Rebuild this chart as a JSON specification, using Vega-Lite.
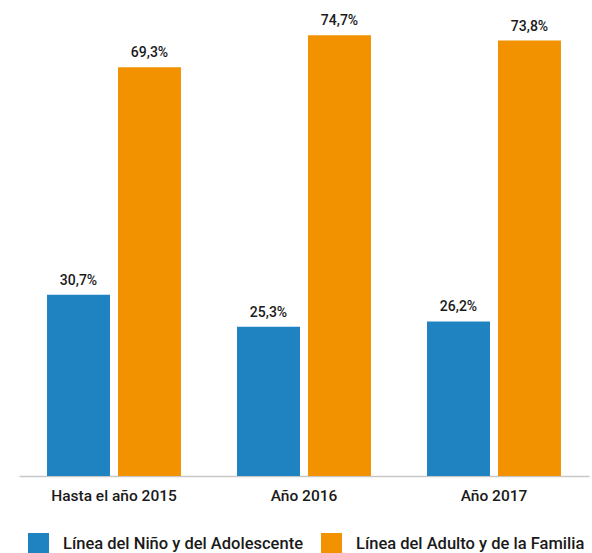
{
  "$schema": "https://vega.github.io/schema/vega-lite/v6.json",
  "width": 570,
  "height": 472,
  "autosize": {"type": "none"},
  "padding": {"left": 19, "top": 4, "right": 3, "bottom": 77},
  "background": "white",
  "data": {
    "values": [
      {"grupo": "Hasta el año 2015", "serie": "Línea del Niño y del Adolescente", "valor": 30.7, "etiqueta": "30,7%"},
      {"grupo": "Hasta el año 2015", "serie": "Línea del Adulto y de la Familia", "valor": 69.3, "etiqueta": "69,3%"},
      {"grupo": "Año 2016", "serie": "Línea del Niño y del Adolescente", "valor": 25.3, "etiqueta": "25,3%"},
      {"grupo": "Año 2016", "serie": "Línea del Adulto y de la Familia", "valor": 74.7, "etiqueta": "74,7%"},
      {"grupo": "Año 2017", "serie": "Línea del Niño y del Adolescente", "valor": 26.2, "etiqueta": "26,2%"},
      {"grupo": "Año 2017", "serie": "Línea del Adulto y de la Familia", "valor": 73.8, "etiqueta": "73,8%"}
    ]
  },
  "encoding": {
    "x": {
      "field": "grupo", "type": "nominal", "sort": null, "title": null,
      "scale": {"paddingInner": 0.295, "paddingOuter": 0.1475},
      "axis": {"labelAngle": 0, "ticks": false, "labelPadding": 12, "labelFontSize": 15.5, "labelFontWeight": 500, "labelColor": "#1a1a1a", "labelFont": "Roboto", "domainColor": "#c8c8c8", "domainWidth": 1.5}
    },
    "xOffset": {
      "field": "serie", "type": "nominal", "sort": null,
      "scale": {"paddingInner": 0.113, "paddingOuter": 0}
    },
    "y": {
      "field": "valor", "type": "quantitative",
      "scale": {"domain": [0, 80]},
      "axis": null
    }
  },
  "layer": [
    {
      "mark": {"type": "bar"},
      "encoding": {
        "color": {
          "field": "serie", "type": "nominal", "sort": null,
          "scale": {"range": ["#1f82c1", "#f39200"]},
          "legend": {
            "title": null, "orient": "none", "direction": "horizontal",
            "legendX": 9, "legendY": 529,
            "symbolType": "square", "symbolSize": 441, "symbolStrokeWidth": 0,
            "labelFontSize": 16.5, "labelFontWeight": 500, "labelFont": "Roboto", "labelColor": "#1a1a1a",
            "labelOffset": 14, "columnPadding": 18, "labelLimit": 400
          }
        }
      }
    },
    {
      "mark": {"type": "text", "dy": -10, "baseline": "alphabetic", "fontSize": 14, "fontWeight": 500, "font": "Roboto", "color": "#1a1a1a"},
      "encoding": {
        "text": {"field": "etiqueta"}
      }
    }
  ],
  "config": {"view": {"stroke": null}}
}
